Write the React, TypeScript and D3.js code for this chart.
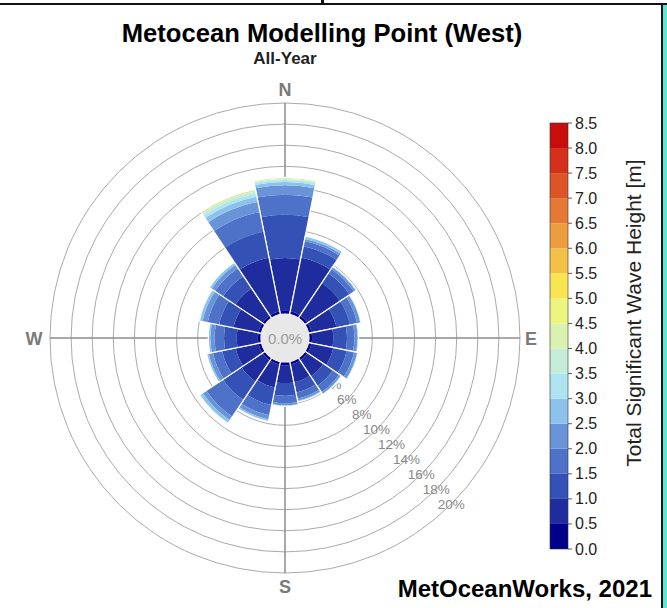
import React from "react";
import * as d3 from "d3";

const directions = ["N", "NNE", "NE", "ENE", "E", "ESE", "SE", "SSE", "S", "SSW", "SW", "WSW", "W", "WNW", "NW", "NNW"];

// wave height bin edges [m]
const heightBins = [0, 0.5, 1.0, 1.5, 2.0, 2.5, 3.0, 3.5, 4.0, 4.5, 5.0, 5.5, 6.0, 6.5, 7.0, 7.5, 8.0, 8.5];

const binColors = [
  "#00008a", "#1f2c9e", "#3451b5", "#4d72c8", "#6a94d8", "#8cc2ec",
  "#ade4ef", "#c4ecd6", "#d9f2b0", "#eef57e", "#f9e552", "#f3c048",
  "#ed9c3e", "#e57834", "#dc5428", "#d4301a", "#c90d0d",
];

// % occurrence in each height bin (0-0.5, 0.5-1.0, ...), one row per direction
const freqByDirection: number[][] = [
  [0.3, 5.0, 4.1, 1.9, 0.9, 0.3, 0.2, 0.1, 0.1, 0.05], // N
  [0.3, 5.2, 1.1, 0.5, 0.2, 0.2, 0.1], // NNE
  [0.3, 3.7, 1.1, 0.5, 0.2, 0.1], // NE
  [0.3, 2.4, 1.3, 0.7, 0.3, 0.1], // ENE
  [0.3, 2.0, 1.3, 0.7, 0.3, 0.1], // E
  [0.3, 2.1, 1.3, 0.7, 0.3, 0.1], // ESE
  [0.3, 1.8, 1.1, 0.7, 0.2, 0.1], // SE
  [0.3, 1.7, 1.0, 0.6, 0.2, 0.1], // SSE
  [0.3, 1.7, 1.2, 0.7, 0.2, 0.1], // S
  [0.3, 2.2, 1.7, 1.0, 0.4, 0.2], // SSW
  [0.3, 2.4, 2.1, 1.9, 0.4, 0.3, 0.1], // SW
  [0.3, 2.2, 1.3, 0.9, 0.4, 0.2], // WSW
  [0.3, 2.0, 1.2, 0.9, 0.4, 0.2], // W
  [0.3, 2.4, 1.4, 1.1, 0.5, 0.3], // WNW
  [0.3, 3.1, 1.4, 0.9, 0.4, 0.2, 0.1], // NW
  [0.3, 5.2, 2.5, 1.9, 1.0, 0.5, 0.3, 0.2, 0.1, 0.1], // NNW
];

const ringTicks = [2, 4, 6, 8, 10, 12, 14, 16, 18, 20];
const ringLabelTicks = [4, 6, 8, 10, 12, 14, 16, 18, 20];
const colorbarTicks = heightBins;
const calmPct = 0.0;

const FONT = "'Liberation Sans', Arial, Helvetica, sans-serif";

export default function App() {
  const W = 667;
  const H = 608;
  const cx = 285;
  const cy = 338;
  const r = d3.scaleLinear().domain([0, 20]).range([24, 235]);
  const step = (2 * Math.PI) / directions.length;

  const arc = d3.arc<any>();

  const sectors = directions.map((d, i) => {
    const a0 = i * step - step / 2;
    const a1 = i * step + step / 2;
    const cum = [0];
    freqByDirection[i].forEach((f) => cum.push(cum[cum.length - 1] + f));
    const pieces = freqByDirection[i].map((f, j) => ({
      d: arc({ innerRadius: r(cum[j]), outerRadius: r(cum[j + 1]), startAngle: a0, endAngle: a1 }) || "",
      color: binColors[j],
    }));
    const outline = arc({ innerRadius: r(0), outerRadius: r(cum[cum.length - 1]), startAngle: a0, endAngle: a1 }) || "";
    return { name: d, pieces, outline };
  });

  const cbY = d3.scaleLinear().domain([0, 8.5]).range([549, 123]);
  const cbX = 550;
  const cbW = 18;

  const rOuter = r(20);
  const diag = Math.SQRT1_2;

  return (
    <svg width={W} height={H} style={{ position: "absolute", left: 0, top: 0, background: "#fff" }} fontFamily={FONT}>
      {/* frame */}
      <rect x={0} y={3} width={W} height={2} fill="#111" />
      <rect x={321} y={0} width={3} height={5} fill="#111" />
      <rect x={663} y={5} width={4} height={H - 5} fill="#55ead9" />
      <rect x={661} y={3} width={2} height={H - 3} fill="#111" />

      <text x={322} y={42} textAnchor="middle" fontSize={25.6} fontWeight="bold" fill="#000">
        Metocean Modelling Point (West)
      </text>
      <text x={285} y={64} textAnchor="middle" fontSize={17} fontWeight="bold" fill="#222">
        All-Year
      </text>

      {/* grid */}
      <g transform={`translate(${cx},${cy})`}>
        {ringTicks.map((t) => (
          <circle key={t} r={r(t)} fill="none" stroke="#aaaaaa" strokeWidth={1} />
        ))}
        <line x1={0} y1={-rOuter} x2={0} y2={rOuter} stroke="#8c8c8c" strokeWidth={1.5} />
        <line x1={-rOuter} y1={0} x2={rOuter} y2={0} stroke="#8c8c8c" strokeWidth={1.5} />
        {ringLabelTicks.map((t) => (
          <text
            key={t}
            x={r(t) * diag}
            y={r(t) * diag}
            textAnchor="middle"
            dominantBaseline="central"
            fontSize={13.5}
            fill="#888888"
          >
            {t}%
          </text>
        ))}

        {sectors.map((s) => (
          <g key={s.name}>
            {s.pieces.map((p, j) => (
              <path key={j} d={p.d} fill={p.color} />
            ))}
            <path d={s.outline} fill="none" stroke="#fff" strokeWidth={1.2} />
          </g>
        ))}

        <circle r={r(0)} fill="#e8e8e8" />
        <text x={0} y={0} textAnchor="middle" dominantBaseline="central" fontSize={15} fill="#9a9a9a">
          {calmPct.toFixed(1)}%
        </text>

        <text x={0} y={-rOuter - 13} textAnchor="middle" dominantBaseline="central" fontSize={18} fontWeight="bold" fill="#7a7a7a">N</text>
        <text x={0} y={rOuter + 14} textAnchor="middle" dominantBaseline="central" fontSize={18} fontWeight="bold" fill="#7a7a7a">S</text>
        <text x={rOuter + 11} y={1} textAnchor="middle" dominantBaseline="central" fontSize={18} fontWeight="bold" fill="#7a7a7a">E</text>
        <text x={-rOuter - 16} y={1} textAnchor="middle" dominantBaseline="central" fontSize={18} fontWeight="bold" fill="#7a7a7a">W</text>
      </g>

      {/* colorbar */}
      <g>
        {binColors.map((c, j) => (
          <rect
            key={j}
            x={cbX}
            y={cbY(heightBins[j + 1])}
            width={cbW}
            height={cbY(heightBins[j]) - cbY(heightBins[j + 1])}
            fill={c}
          />
        ))}
        <rect x={cbX} y={cbY(8.5)} width={cbW} height={cbY(0) - cbY(8.5)} fill="none" stroke="#333" strokeWidth={0.6} />
        {colorbarTicks.map((t) => (
          <g key={t}>
            <line x1={cbX + cbW} x2={cbX + cbW + 4} y1={cbY(t)} y2={cbY(t)} stroke="#333" strokeWidth={0.8} />
            <text x={cbX + cbW + 7} y={cbY(t)} dominantBaseline="central" fontSize={16} fill="#222">
              {t.toFixed(1)}
            </text>
          </g>
        ))}
        <text
          transform="translate(633,313) rotate(-90)"
          textAnchor="middle"
          dominantBaseline="central"
          fontSize={21}
          fill="#222"
        >
          Total Significant Wave Height [m]
        </text>
      </g>

      <text x={652} y={597} textAnchor="end" fontSize={24} fontWeight="bold" fill="#000">
        MetOceanWorks, 2021
      </text>
    </svg>
  );
}
